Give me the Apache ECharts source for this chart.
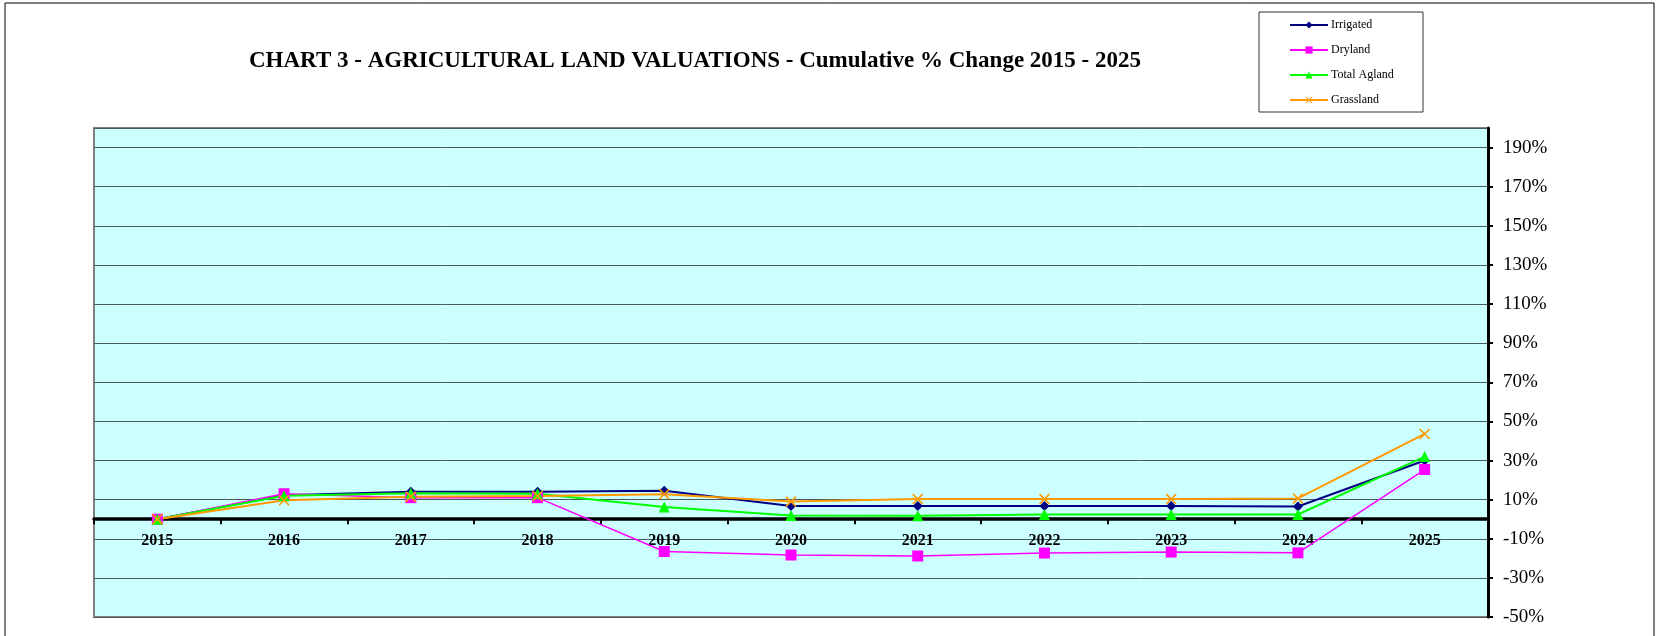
<!DOCTYPE html>
<html>
<head>
<meta charset="utf-8">
<script src="https://cdn.jsdelivr.net/npm/echarts@6/dist/echarts.min.js"></script>
<style>
html,body{margin:0;padding:0;background:#fff;}
#chart{width:1660px;height:636px;}
</style>
</head>
<body>
<div id="chart"></div>
<script>
const years = ['2015','2016','2017','2018','2019','2020','2021','2022','2023','2024','2025'];
const irrigated   = [0, 12.3, 14.0, 14.0, 14.5, 6.8, 6.8, 6.8, 6.8, 6.5, 30.0];
const dryland     = [0, 13.0, 11.0, 11.0, -16.5, -18.3, -18.8, -17.3, -16.8, -17.2, 25.4];
const totalAgland = [0, 12.0, 13.3, 13.0, 6.2, 1.9, 1.8, 2.4, 2.4, 2.4, 32.0];
const grassland   = [0, 9.7, 11.5, 11.8, 12.8, 9.0, 10.3, 10.3, 10.3, 10.6, 43.6];
const titleText = 'CHART 3 - AGRICULTURAL LAND VALUATIONS - Cumulative % Change 2015 - 2025';

const serif = '"Liberation Serif","Times New Roman",serif';
const xPath = 'path://M0,1L1,0L5,4L9,0L10,1L6,5L10,9L9,10L5,6L1,10L0,9L4,5Z';

const chart = echarts.init(document.getElementById('chart'));
chart.setOption({
  animation: false,
  backgroundColor: '#ffffff',
  title: {
    text: titleText,
    left: 249, top: 50,
    padding: 0,
    textStyle: {fontFamily: serif, fontWeight: 'bold', fontSize: 23, color: '#000'}
  },
  graphic: [
    {type: 'rect', shape: {x: 5, y: 3, width: 1649, height: 660}, style: {fill: 'none', stroke: '#000', lineWidth: 1}, silent: true, z: -1},
    {type: 'rect', shape: {x: 1259, y: 12, width: 164, height: 100}, style: {fill: '#fff', stroke: '#333', lineWidth: 1}, silent: true, z: 0}
  ],
  legend: {
    orient: 'vertical',
    left: 1289, top: 19,
    padding: 0,
    itemWidth: 38, itemHeight: 9,
    itemGap: 13,
    z: 5,
    textStyle: {fontFamily: serif, fontSize: 12, color: '#000', padding: [0,0,0,-2]},
    data: ['Irrigated','Dryland','Total Agland','Grassland']
  },
  grid: {
    left: 94, top: 128, right: 172, bottom: 19,
    outerBoundsMode: 'none',
    containLabel: false,
    show: true, backgroundColor: '#CCFFFF', borderColor: '#808080', borderWidth: 2
  },
  xAxis: {
    type: 'category',
    data: years,
    boundaryGap: true,
    axisLine: {onZero: true, lineStyle: {color: '#000', width: 3.5}},
    axisTick: {show: true, length: 5, lineStyle: {color: '#000', width: 2}},
    axisLabel: {fontFamily: serif, fontWeight: 'bold', fontSize: 16, color: '#000', margin: -84},
    splitLine: {show: false}
  },
  yAxis: {
    type: 'value',
    position: 'right',
    min: -50, max: 200, interval: 20,
    axisLine: {show: true, lineStyle: {color: '#000', width: 3}},
    axisTick: {show: true, length: 5, lineStyle: {color: '#000', width: 2}},
    axisLabel: {
      fontFamily: serif, fontSize: 19, color: '#000', margin: 15,
      showMaxLabel: false,
      formatter: v => (v >= 200 ? '' : v + '%')
    },
    splitLine: {show: true, lineStyle: {color: '#4a5a5a', width: 1}}
  },
  series: [
    {name: 'Irrigated', type: 'line', data: irrigated, symbol: 'diamond', symbolSize: 10,
     lineStyle: {color: '#000080', width: 2}, itemStyle: {color: '#000080'}},
    {name: 'Dryland', type: 'line', data: dryland, symbol: 'rect', symbolSize: 11,
     lineStyle: {color: '#FF00FF', width: 1.5}, itemStyle: {color: '#FF00FF'}},
    {name: 'Total Agland', type: 'line', data: totalAgland, symbol: 'triangle', symbolSize: 11,
     lineStyle: {color: '#00FF00', width: 2}, itemStyle: {color: '#00FF00'}},
    {name: 'Grassland', type: 'line', data: grassland, symbol: xPath, symbolSize: 11,
     lineStyle: {color: '#FF9900', width: 2}, itemStyle: {color: '#FF9900'}}
  ]
});
</script>
</body>
</html>
